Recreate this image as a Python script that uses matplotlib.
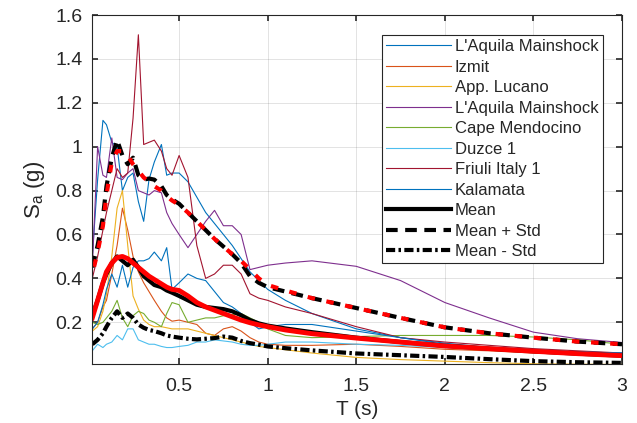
import numpy as np
import matplotlib
matplotlib.use('Agg')
import matplotlib.pyplot as plt

plt.rcParams['font.family'] = ['Liberation Sans', 'DejaVu Sans']
plt.rcParams['mathtext.default'] = 'regular'

# periodi (s)
T = [0.01, 0.04, 0.07, 0.09, 0.12, 0.15, 0.18, 0.21, 0.24, 0.27, 0.30, 0.33,
     0.36, 0.40, 0.43, 0.46, 0.50, 0.55, 0.60, 0.65, 0.70, 0.75, 0.80, 0.85,
     0.90, 0.95, 1.00, 1.10, 1.25, 1.50, 1.75, 2.00, 2.25, 2.50, 2.75, 3.00]

# spettri dei singoli record (g)
laquila1 = [0.50, 0.85, 1.12, 1.10, 1.02, 1.00, 0.80, 0.86, 0.88, 0.75, 0.66, 0.85,
            0.93, 1.01, 0.87, 0.88, 0.88, 0.84, 0.77, 0.70, 0.65, 0.60, 0.55, 0.49,
            0.43, 0.39, 0.35, 0.30, 0.24, 0.17, 0.13, 0.105, 0.085, 0.072, 0.065, 0.06]
izmit = [0.17, 0.20, 0.27, 0.30, 0.42, 0.55, 0.72, 0.62, 0.50, 0.43, 0.38, 0.34,
         0.30, 0.25, 0.22, 0.205, 0.21, 0.20, 0.19, 0.15, 0.14, 0.17, 0.18, 0.16,
         0.13, 0.11, 0.10, 0.095, 0.095, 0.10, 0.09, 0.077, 0.07, 0.06, 0.052, 0.045]
lucano = [0.16, 0.18, 0.25, 0.33, 0.50, 0.72, 0.80, 0.55, 0.32, 0.26, 0.21, 0.19,
          0.18, 0.18, 0.175, 0.17, 0.17, 0.17, 0.16, 0.15, 0.14, 0.13, 0.12, 0.11,
          0.10, 0.09, 0.085, 0.075, 0.06, 0.04, 0.03, 0.023, 0.016, 0.011, 0.009, 0.008]
laquila2 = [0.45, 1.00, 0.87, 0.86, 1.04, 0.86, 0.85, 0.88, 0.90, 0.80, 0.79, 0.78,
            0.80, 0.79, 0.70, 0.65, 0.60, 0.54, 0.60, 0.66, 0.71, 0.64, 0.64, 0.60,
            0.44, 0.45, 0.46, 0.47, 0.48, 0.455, 0.39, 0.29, 0.22, 0.155, 0.125, 0.108]
mendocino = [0.20, 0.19, 0.20, 0.22, 0.25, 0.30, 0.22, 0.18, 0.23, 0.25, 0.24, 0.21,
             0.20, 0.18, 0.24, 0.29, 0.28, 0.20, 0.21, 0.22, 0.22, 0.23, 0.235, 0.24,
             0.22, 0.20, 0.17, 0.14, 0.13, 0.135, 0.14, 0.14, 0.14, 0.133, 0.12, 0.10]
duzce = [0.07, 0.10, 0.085, 0.10, 0.11, 0.14, 0.12, 0.17, 0.17, 0.12, 0.11, 0.10,
         0.10, 0.09, 0.085, 0.085, 0.09, 0.095, 0.11, 0.11, 0.12, 0.115, 0.11, 0.10,
         0.095, 0.095, 0.10, 0.11, 0.11, 0.10, 0.095, 0.085, 0.075, 0.068, 0.063, 0.06]
friuli = [0.40, 0.50, 0.62, 0.70, 0.80, 0.90, 0.86, 0.88, 1.13, 1.51, 1.01, 1.02,
          1.03, 0.98, 0.90, 0.87, 0.96, 0.86, 0.55, 0.40, 0.42, 0.46, 0.46, 0.42,
          0.33, 0.31, 0.30, 0.27, 0.24, 0.18, 0.13, 0.11, 0.095, 0.08, 0.07, 0.06]
kalamata = [0.17, 0.20, 0.28, 0.35, 0.42, 0.36, 0.46, 0.36, 0.45, 0.48, 0.48, 0.49,
            0.52, 0.48, 0.54, 0.35, 0.38, 0.42, 0.40, 0.39, 0.34, 0.29, 0.27, 0.24,
            0.20, 0.17, 0.18, 0.19, 0.19, 0.16, 0.13, 0.10, 0.085, 0.072, 0.065, 0.06]

records = [laquila1, izmit, lucano, laquila2, mendocino, duzce, friuli, kalamata]
nomi = ["L'Aquila Mainshock", 'Izmit', 'App. Lucano', "L'Aquila Mainshock",
        'Cape Mendocino', 'Duzce 1', 'Friuli Italy 1', 'Kalamata']
colori = ['#0072BD', '#D95319', '#EDB120', '#7E2F8E', '#77AC30', '#4DBEEE',
          '#A2142F', '#0072BD']

# statistiche dei record
media = [0.23, 0.30, 0.38, 0.42, 0.47, 0.50, 0.48, 0.46, 0.485, 0.45, 0.41, 0.39,
         0.37, 0.36, 0.345, 0.335, 0.32, 0.30, 0.28, 0.27, 0.265, 0.26, 0.25, 0.232,
         0.21, 0.195, 0.185, 0.172, 0.155, 0.13, 0.11, 0.093, 0.08, 0.068, 0.057, 0.048]
media_piu = [0.45, 0.55, 0.68, 0.82, 0.95, 1.03, 0.96, 0.92, 0.95, 0.87, 0.85, 0.855,
             0.85, 0.82, 0.78, 0.76, 0.74, 0.70, 0.66, 0.62, 0.58, 0.545, 0.51, 0.47,
             0.41, 0.38, 0.36, 0.34, 0.31, 0.265, 0.22, 0.177, 0.15, 0.13, 0.112, 0.10]
media_meno = [0.10, 0.12, 0.15, 0.18, 0.22, 0.25, 0.22, 0.24, 0.22, 0.19, 0.175, 0.165,
              0.16, 0.15, 0.14, 0.135, 0.13, 0.125, 0.122, 0.125, 0.128, 0.135, 0.13, 0.115,
              0.105, 0.098, 0.09, 0.082, 0.072, 0.058, 0.05, 0.042, 0.032, 0.023, 0.018, 0.015]

# spettro target (rosso)
target = [0.22, 0.30, 0.38, 0.43, 0.47, 0.495, 0.50, 0.49, 0.47, 0.45, 0.43, 0.41,
          0.395, 0.375, 0.36, 0.35, 0.345, 0.32, 0.29, 0.27, 0.255, 0.24, 0.225, 0.21,
          0.198, 0.188, 0.18, 0.165, 0.148, 0.128, 0.11, 0.092, 0.08, 0.068, 0.057, 0.048]
target_piu = [0.42, 0.52, 0.64, 0.78, 0.93, 0.98, 0.98, 0.96, 0.92, 0.89, 0.86, 0.84,
              0.82, 0.80, 0.775, 0.755, 0.735, 0.70, 0.66, 0.62, 0.58, 0.545, 0.51, 0.48,
              0.44, 0.40, 0.37, 0.345, 0.31, 0.265, 0.22, 0.177, 0.15, 0.13, 0.112, 0.10]

fig = plt.figure(figsize=(6.37, 4.23), dpi=100)
ax = fig.add_axes([0.1449, 0.1395, 0.8316, 0.825])

for sa, nome, c in zip(records, nomi, colori):
    ax.plot(T, sa, color=c, lw=0.8, label=nome)

ax.plot(T, media, color='k', lw=3, label='Mean')
ax.plot(T, media_piu, color='k', lw=3, linestyle=(0, (2.8, 1.8)), label='Mean + Std')
ax.plot(T, media_meno, color='k', lw=3, linestyle=(0, (2.2, 0.8, 0.6, 0.8)), label='Mean - Std')
ax.plot(T, target, color='red', lw=3.5)
ax.plot(T, target_piu, color='red', lw=3, linestyle=(2.8, (1.8, 2.8)))

ax.set_xlim(0.01, 3)
ax.set_ylim(0.01, 1.6)
ax.set_xticks([0.5, 1, 1.5, 2, 2.5, 3])
ax.set_xticklabels(['0.5', '1', '1.5', '2', '2.5', '3'])
ax.set_yticks([0.2, 0.4, 0.6, 0.8, 1.0, 1.2, 1.4, 1.6])
ax.set_yticklabels(['0.2', '0.4', '0.6', '0.8', '1', '1.2', '1.4', '1.6'])
ax.grid(True, color='#262626', alpha=0.15, lw=0.6)
ax.tick_params(direction='in', top=True, right=True, length=4, width=1.2,
               labelsize=14, colors='#262626')
ax.tick_params(axis='x', pad=10)
ax.tick_params(axis='y', pad=7)
for sp in ax.spines.values():
    sp.set_color('#262626')
    sp.set_linewidth(0.8)

ax.set_xlabel('T (s)', fontsize=15, color='#262626', labelpad=4)
ax.set_ylabel('S$_a$ (g)', fontsize=16, color='#262626', labelpad=6)

leg = ax.legend(loc='upper right', bbox_to_anchor=(0.9636, 0.9427), fontsize=12,
                handlelength=3.9, labelspacing=0.33, handletextpad=0.25,
                borderpad=0.25, borderaxespad=0, fancybox=False, framealpha=1)
leg.get_frame().set_edgecolor('#262626')
leg.get_frame().set_linewidth(0.8)
for t in leg.get_texts():
    t.set_color('#262626')

plt.savefig('out.png', dpi=100)
